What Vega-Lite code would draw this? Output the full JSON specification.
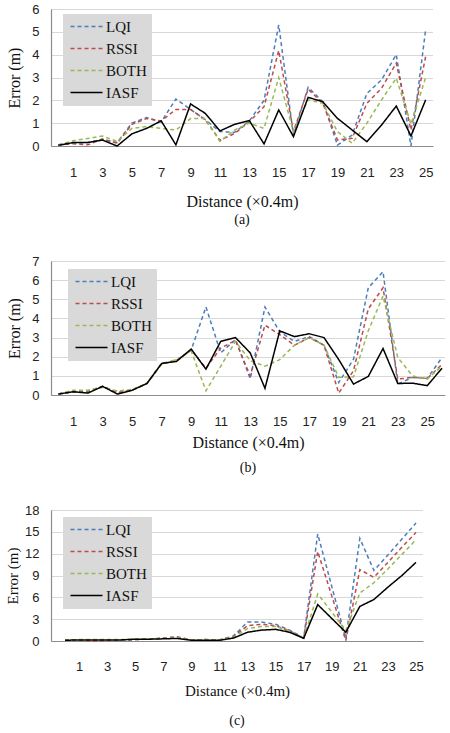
{
  "$schema": "https://vega.github.io/schema/vega-lite/v6.json",
  "background": "white",
  "padding": {"top": 3, "left": 5, "right": 4, "bottom": 2},
  "bounds": "flush",
  "spacing": 115,
  "datasets": {
    "a": [
      {"d":0,"s":"LQI","e":0.05},{"d":1,"s":"LQI","e":0.12},{"d":2,"s":"LQI","e":0.15},{"d":3,"s":"LQI","e":0.3},{"d":4,"s":"LQI","e":0.15},{"d":5,"s":"LQI","e":1.0},{"d":6,"s":"LQI","e":1.25},{"d":7,"s":"LQI","e":1.05},{"d":8,"s":"LQI","e":2.06},{"d":9,"s":"LQI","e":1.6},{"d":10,"s":"LQI","e":1.15},{"d":11,"s":"LQI","e":0.63},{"d":12,"s":"LQI","e":0.6},{"d":13,"s":"LQI","e":1.1},{"d":14,"s":"LQI","e":2.0},{"d":15,"s":"LQI","e":5.3},{"d":16,"s":"LQI","e":0.48},{"d":17,"s":"LQI","e":2.57},{"d":18,"s":"LQI","e":1.94},{"d":19,"s":"LQI","e":0.04},{"d":20,"s":"LQI","e":0.48},{"d":21,"s":"LQI","e":2.3},{"d":22,"s":"LQI","e":2.9},{"d":23,"s":"LQI","e":4.0},{"d":24,"s":"LQI","e":0.0},{"d":25,"s":"LQI","e":5.1},
      {"d":0,"s":"RSSI","e":0.05},{"d":1,"s":"RSSI","e":0.1},{"d":2,"s":"RSSI","e":0.05},{"d":3,"s":"RSSI","e":0.3},{"d":4,"s":"RSSI","e":0.12},{"d":5,"s":"RSSI","e":0.95},{"d":6,"s":"RSSI","e":1.2},{"d":7,"s":"RSSI","e":1.1},{"d":8,"s":"RSSI","e":1.6},{"d":9,"s":"RSSI","e":1.6},{"d":10,"s":"RSSI","e":1.15},{"d":11,"s":"RSSI","e":0.25},{"d":12,"s":"RSSI","e":0.55},{"d":13,"s":"RSSI","e":1.07},{"d":14,"s":"RSSI","e":1.72},{"d":15,"s":"RSSI","e":4.18},{"d":16,"s":"RSSI","e":0.63},{"d":17,"s":"RSSI","e":2.49},{"d":18,"s":"RSSI","e":1.87},{"d":19,"s":"RSSI","e":0.26},{"d":20,"s":"RSSI","e":0.34},{"d":21,"s":"RSSI","e":1.87},{"d":22,"s":"RSSI","e":2.53},{"d":23,"s":"RSSI","e":3.63},{"d":24,"s":"RSSI","e":0.7},{"d":25,"s":"RSSI","e":3.92},
      {"d":0,"s":"BOTH","e":0.05},{"d":1,"s":"BOTH","e":0.23},{"d":2,"s":"BOTH","e":0.33},{"d":3,"s":"BOTH","e":0.44},{"d":4,"s":"BOTH","e":0.2},{"d":5,"s":"BOTH","e":0.77},{"d":6,"s":"BOTH","e":0.85},{"d":7,"s":"BOTH","e":0.77},{"d":8,"s":"BOTH","e":0.7},{"d":9,"s":"BOTH","e":1.2},{"d":10,"s":"BOTH","e":1.2},{"d":11,"s":"BOTH","e":0.2},{"d":12,"s":"BOTH","e":0.7},{"d":13,"s":"BOTH","e":1.0},{"d":14,"s":"BOTH","e":0.77},{"d":15,"s":"BOTH","e":3.0},{"d":16,"s":"BOTH","e":0.63},{"d":17,"s":"BOTH","e":2.02},{"d":18,"s":"BOTH","e":1.87},{"d":19,"s":"BOTH","e":0.63},{"d":20,"s":"BOTH","e":0.12},{"d":21,"s":"BOTH","e":1.0},{"d":22,"s":"BOTH","e":2.02},{"d":23,"s":"BOTH","e":2.97},{"d":24,"s":"BOTH","e":0.96},{"d":25,"s":"BOTH","e":3.0},
      {"d":0,"s":"IASF","e":0.03},{"d":1,"s":"IASF","e":0.15},{"d":2,"s":"IASF","e":0.15},{"d":3,"s":"IASF","e":0.26},{"d":4,"s":"IASF","e":0.0},{"d":5,"s":"IASF","e":0.53},{"d":6,"s":"IASF","e":0.77},{"d":7,"s":"IASF","e":1.1},{"d":8,"s":"IASF","e":0.05},{"d":9,"s":"IASF","e":1.84},{"d":10,"s":"IASF","e":1.43},{"d":11,"s":"IASF","e":0.66},{"d":12,"s":"IASF","e":0.95},{"d":13,"s":"IASF","e":1.11},{"d":14,"s":"IASF","e":0.09},{"d":15,"s":"IASF","e":1.58},{"d":16,"s":"IASF","e":0.41},{"d":17,"s":"IASF","e":2.13},{"d":18,"s":"IASF","e":1.94},{"d":19,"s":"IASF","e":1.21},{"d":20,"s":"IASF","e":0.7},{"d":21,"s":"IASF","e":0.19},{"d":22,"s":"IASF","e":0.92},{"d":23,"s":"IASF","e":1.75},{"d":24,"s":"IASF","e":0.44},{"d":25,"s":"IASF","e":2.02}
    ],
    "b": [
      {"d":0,"s":"LQI","e":0.05},{"d":1,"s":"LQI","e":0.2},{"d":2,"s":"LQI","e":0.2},{"d":3,"s":"LQI","e":0.45},{"d":4,"s":"LQI","e":0.15},{"d":5,"s":"LQI","e":0.25},{"d":6,"s":"LQI","e":0.6},{"d":7,"s":"LQI","e":1.65},{"d":8,"s":"LQI","e":1.8},{"d":9,"s":"LQI","e":2.35},{"d":10,"s":"LQI","e":4.6},{"d":11,"s":"LQI","e":2.2},{"d":12,"s":"LQI","e":2.9},{"d":13,"s":"LQI","e":0.85},{"d":14,"s":"LQI","e":4.6},{"d":15,"s":"LQI","e":3.3},{"d":16,"s":"LQI","e":2.8},{"d":17,"s":"LQI","e":3.05},{"d":18,"s":"LQI","e":2.6},{"d":19,"s":"LQI","e":0.65},{"d":20,"s":"LQI","e":1.87},{"d":21,"s":"LQI","e":5.6},{"d":22,"s":"LQI","e":6.44},{"d":23,"s":"LQI","e":0.57},{"d":24,"s":"LQI","e":0.92},{"d":25,"s":"LQI","e":0.87},{"d":26,"s":"LQI","e":1.96},
      {"d":0,"s":"RSSI","e":0.05},{"d":1,"s":"RSSI","e":0.15},{"d":2,"s":"RSSI","e":0.15},{"d":3,"s":"RSSI","e":0.45},{"d":4,"s":"RSSI","e":0.1},{"d":5,"s":"RSSI","e":0.25},{"d":6,"s":"RSSI","e":0.6},{"d":7,"s":"RSSI","e":1.65},{"d":8,"s":"RSSI","e":1.8},{"d":9,"s":"RSSI","e":2.35},{"d":10,"s":"RSSI","e":1.4},{"d":11,"s":"RSSI","e":2.45},{"d":12,"s":"RSSI","e":2.85},{"d":13,"s":"RSSI","e":1.0},{"d":14,"s":"RSSI","e":3.65},{"d":15,"s":"RSSI","e":3.15},{"d":16,"s":"RSSI","e":2.6},{"d":17,"s":"RSSI","e":3.0},{"d":18,"s":"RSSI","e":2.6},{"d":19,"s":"RSSI","e":0.1},{"d":20,"s":"RSSI","e":1.27},{"d":21,"s":"RSSI","e":4.5},{"d":22,"s":"RSSI","e":5.6},{"d":23,"s":"RSSI","e":0.83},{"d":24,"s":"RSSI","e":0.92},{"d":25,"s":"RSSI","e":0.87},{"d":26,"s":"RSSI","e":1.6},
      {"d":0,"s":"BOTH","e":0.05},{"d":1,"s":"BOTH","e":0.25},{"d":2,"s":"BOTH","e":0.25},{"d":3,"s":"BOTH","e":0.4},{"d":4,"s":"BOTH","e":0.2},{"d":5,"s":"BOTH","e":0.3},{"d":6,"s":"BOTH","e":0.6},{"d":7,"s":"BOTH","e":1.6},{"d":8,"s":"BOTH","e":1.85},{"d":9,"s":"BOTH","e":2.3},{"d":10,"s":"BOTH","e":0.22},{"d":11,"s":"BOTH","e":1.5},{"d":12,"s":"BOTH","e":2.8},{"d":13,"s":"BOTH","e":1.8},{"d":14,"s":"BOTH","e":1.5},{"d":15,"s":"BOTH","e":1.85},{"d":16,"s":"BOTH","e":2.6},{"d":17,"s":"BOTH","e":3.0},{"d":18,"s":"BOTH","e":2.6},{"d":19,"s":"BOTH","e":0.92},{"d":20,"s":"BOTH","e":0.95},{"d":21,"s":"BOTH","e":3.35},{"d":22,"s":"BOTH","e":5.17},{"d":23,"s":"BOTH","e":1.96},{"d":24,"s":"BOTH","e":1.0},{"d":25,"s":"BOTH","e":0.83},{"d":26,"s":"BOTH","e":1.53},
      {"d":0,"s":"IASF","e":0.05},{"d":1,"s":"IASF","e":0.17},{"d":2,"s":"IASF","e":0.1},{"d":3,"s":"IASF","e":0.45},{"d":4,"s":"IASF","e":0.05},{"d":5,"s":"IASF","e":0.25},{"d":6,"s":"IASF","e":0.6},{"d":7,"s":"IASF","e":1.65},{"d":8,"s":"IASF","e":1.75},{"d":9,"s":"IASF","e":2.4},{"d":10,"s":"IASF","e":1.35},{"d":11,"s":"IASF","e":2.8},{"d":12,"s":"IASF","e":3.0},{"d":13,"s":"IASF","e":2.2},{"d":14,"s":"IASF","e":0.35},{"d":15,"s":"IASF","e":3.35},{"d":16,"s":"IASF","e":3.05},{"d":17,"s":"IASF","e":3.2},{"d":18,"s":"IASF","e":3.0},{"d":19,"s":"IASF","e":1.85},{"d":20,"s":"IASF","e":0.57},{"d":21,"s":"IASF","e":0.97},{"d":22,"s":"IASF","e":2.43},{"d":23,"s":"IASF","e":0.6},{"d":24,"s":"IASF","e":0.62},{"d":25,"s":"IASF","e":0.49},{"d":26,"s":"IASF","e":1.4}
    ],
    "c": [
      {"d":0,"s":"LQI","e":0.1},{"d":1,"s":"LQI","e":0.15},{"d":2,"s":"LQI","e":0.1},{"d":3,"s":"LQI","e":0.1},{"d":4,"s":"LQI","e":0.15},{"d":5,"s":"LQI","e":0.2},{"d":6,"s":"LQI","e":0.25},{"d":7,"s":"LQI","e":0.4},{"d":8,"s":"LQI","e":0.55},{"d":9,"s":"LQI","e":0.15},{"d":10,"s":"LQI","e":0.2},{"d":11,"s":"LQI","e":0.15},{"d":12,"s":"LQI","e":0.7},{"d":13,"s":"LQI","e":2.6},{"d":14,"s":"LQI","e":2.6},{"d":15,"s":"LQI","e":2.3},{"d":16,"s":"LQI","e":1.5},{"d":17,"s":"LQI","e":0.4},{"d":18,"s":"LQI","e":14.7},{"d":19,"s":"LQI","e":7.5},{"d":20,"s":"LQI","e":0.35},{"d":21,"s":"LQI","e":14.1},{"d":22,"s":"LQI","e":9.7},{"d":23,"s":"LQI","e":11.8},{"d":24,"s":"LQI","e":14.0},{"d":25,"s":"LQI","e":16.2},
      {"d":0,"s":"RSSI","e":0.1},{"d":1,"s":"RSSI","e":0.15},{"d":2,"s":"RSSI","e":0.0},{"d":3,"s":"RSSI","e":0.1},{"d":4,"s":"RSSI","e":0.15},{"d":5,"s":"RSSI","e":0.2},{"d":6,"s":"RSSI","e":0.25},{"d":7,"s":"RSSI","e":0.4},{"d":8,"s":"RSSI","e":0.55},{"d":9,"s":"RSSI","e":0.15},{"d":10,"s":"RSSI","e":0.2},{"d":11,"s":"RSSI","e":0.15},{"d":12,"s":"RSSI","e":0.6},{"d":13,"s":"RSSI","e":2.1},{"d":14,"s":"RSSI","e":2.3},{"d":15,"s":"RSSI","e":2.1},{"d":16,"s":"RSSI","e":1.4},{"d":17,"s":"RSSI","e":0.4},{"d":18,"s":"RSSI","e":12.3},{"d":19,"s":"RSSI","e":6.2},{"d":20,"s":"RSSI","e":0.05},{"d":21,"s":"RSSI","e":9.8},{"d":22,"s":"RSSI","e":8.75},{"d":23,"s":"RSSI","e":10.8},{"d":24,"s":"RSSI","e":12.9},{"d":25,"s":"RSSI","e":14.9},
      {"d":0,"s":"BOTH","e":0.1},{"d":1,"s":"BOTH","e":0.2},{"d":2,"s":"BOTH","e":0.2},{"d":3,"s":"BOTH","e":0.2},{"d":4,"s":"BOTH","e":0.2},{"d":5,"s":"BOTH","e":0.25},{"d":6,"s":"BOTH","e":0.25},{"d":7,"s":"BOTH","e":0.35},{"d":8,"s":"BOTH","e":0.45},{"d":9,"s":"BOTH","e":0.15},{"d":10,"s":"BOTH","e":0.15},{"d":11,"s":"BOTH","e":0.15},{"d":12,"s":"BOTH","e":0.5},{"d":13,"s":"BOTH","e":1.7},{"d":14,"s":"BOTH","e":2.0},{"d":15,"s":"BOTH","e":2.0},{"d":16,"s":"BOTH","e":1.3},{"d":17,"s":"BOTH","e":0.4},{"d":18,"s":"BOTH","e":6.45},{"d":19,"s":"BOTH","e":4.0},{"d":20,"s":"BOTH","e":1.4},{"d":21,"s":"BOTH","e":6.6},{"d":22,"s":"BOTH","e":8.0},{"d":23,"s":"BOTH","e":9.9},{"d":24,"s":"BOTH","e":11.9},{"d":25,"s":"BOTH","e":13.9},
      {"d":0,"s":"IASF","e":0.1},{"d":1,"s":"IASF","e":0.15},{"d":2,"s":"IASF","e":0.15},{"d":3,"s":"IASF","e":0.15},{"d":4,"s":"IASF","e":0.15},{"d":5,"s":"IASF","e":0.25},{"d":6,"s":"IASF","e":0.25},{"d":7,"s":"IASF","e":0.3},{"d":8,"s":"IASF","e":0.35},{"d":9,"s":"IASF","e":0.1},{"d":10,"s":"IASF","e":0.1},{"d":11,"s":"IASF","e":0.1},{"d":12,"s":"IASF","e":0.4},{"d":13,"s":"IASF","e":1.2},{"d":14,"s":"IASF","e":1.5},{"d":15,"s":"IASF","e":1.6},{"d":16,"s":"IASF","e":1.2},{"d":17,"s":"IASF","e":0.37},{"d":18,"s":"IASF","e":5.0},{"d":19,"s":"IASF","e":3.1},{"d":20,"s":"IASF","e":1.2},{"d":21,"s":"IASF","e":4.75},{"d":22,"s":"IASF","e":5.7},{"d":23,"s":"IASF","e":7.4},{"d":24,"s":"IASF","e":9.0},{"d":25,"s":"IASF","e":10.8}
    ]
  },
  "resolve": {
    "scale": {"x": "independent", "y": "independent", "color": "independent", "strokeDash": "independent", "strokeWidth": "independent"},
    "legend": {"color": "independent", "strokeDash": "independent", "strokeWidth": "independent"}
  },
  "vconcat": [
    {
      "width": 382,
      "height": 137,
      "title": {"text": "(a)", "offset": 4},
      "data": {"name": "a"},
      "mark": {"type": "line"},
      "encoding": {
        "x": {"field": "d", "type": "quantitative", "scale": {"domain": [-0.5, 25.5], "nice": false, "zero": false},
          "axis": {"values": [1, 3, 5, 7, 9, 11, 13, 15, 17, 19, 21, 23, 25], "title": "Distance (×0.4m)", "titlePadding": 14, "titleFontSize": 16}},
        "y": {"field": "e", "type": "quantitative", "scale": {"domain": [0, 6], "nice": false},
          "axis": {"values": [0, 1, 2, 3, 4, 5, 6], "title": "Error (m)", "titlePadding": 9, "titleFontSize": 16}},
        "color": {"field": "s", "type": "nominal",
          "scale": {"domain": ["LQI", "RSSI", "BOTH", "IASF"], "range": ["#4a7ebb", "#be4b48", "#98b954", "#000000"]},
          "legend": {"title": null, "legendX": 12, "legendY": 5}},
        "strokeDash": {"field": "s", "type": "nominal",
          "scale": {"domain": ["LQI", "RSSI", "BOTH", "IASF"], "range": [[4, 3], [4, 3], [4, 3], [1, 0]]},
          "legend": {"title": null, "legendX": 12, "legendY": 5}},
        "strokeWidth": {"field": "s", "type": "nominal",
          "scale": {"domain": ["LQI", "RSSI", "BOTH", "IASF"], "range": [1.5, 1.5, 1.5, 2.2]},
          "legend": {"title": null, "legendX": 12, "legendY": 5}}
      }
    },
    {
      "width": 394,
      "height": 134,
      "title": {"text": "(b)", "offset": 11},
      "data": {"name": "b"},
      "mark": {"type": "line"},
      "encoding": {
        "x": {"field": "d", "type": "quantitative", "scale": {"domain": [-0.5, 26.2], "nice": false, "zero": false},
          "axis": {"values": [1, 3, 5, 7, 9, 11, 13, 15, 17, 19, 21, 23, 25], "title": "Distance (×0.4m)", "titlePadding": 6, "titleFontSize": 16}},
        "y": {"field": "e", "type": "quantitative", "scale": {"domain": [0, 7], "nice": false},
          "axis": {"values": [0, 1, 2, 3, 4, 5, 6, 7], "title": "Error (m)", "titlePadding": 9, "titleFontSize": 16}},
        "color": {"field": "s", "type": "nominal",
          "scale": {"domain": ["LQI", "RSSI", "BOTH", "IASF"], "range": ["#4a7ebb", "#be4b48", "#98b954", "#000000"]},
          "legend": {"title": null, "legendX": 17, "legendY": 8}},
        "strokeDash": {"field": "s", "type": "nominal",
          "scale": {"domain": ["LQI", "RSSI", "BOTH", "IASF"], "range": [[4, 3], [4, 3], [4, 3], [1, 0]]},
          "legend": {"title": null, "legendX": 17, "legendY": 8}},
        "strokeWidth": {"field": "s", "type": "nominal",
          "scale": {"domain": ["LQI", "RSSI", "BOTH", "IASF"], "range": [1.5, 1.5, 1.5, 2.2]},
          "legend": {"title": null, "legendX": 17, "legendY": 8}}
      }
    },
    {
      "width": 372,
      "height": 131,
      "title": {"text": "(c)", "offset": 16},
      "data": {"name": "c"},
      "mark": {"type": "line"},
      "encoding": {
        "x": {"field": "d", "type": "quantitative", "scale": {"domain": [-1, 25.5], "nice": false, "zero": false},
          "axis": {"values": [1, 3, 5, 7, 9, 11, 13, 15, 17, 19, 21, 23, 25], "title": "Distance (×0.4m)", "titlePadding": 10, "labelPadding": 19}},
        "y": {"field": "e", "type": "quantitative", "scale": {"domain": [0, 18], "nice": false},
          "axis": {"values": [0, 3, 6, 9, 12, 15, 18], "title": "Error (m)", "titlePadding": 4}},
        "color": {"field": "s", "type": "nominal",
          "scale": {"domain": ["LQI", "RSSI", "BOTH", "IASF"], "range": ["#4a7ebb", "#be4b48", "#98b954", "#000000"]},
          "legend": {"title": null, "legendX": 12, "legendY": 7}},
        "strokeDash": {"field": "s", "type": "nominal",
          "scale": {"domain": ["LQI", "RSSI", "BOTH", "IASF"], "range": [[4, 3], [4, 3], [4, 3], [1, 0]]},
          "legend": {"title": null, "legendX": 12, "legendY": 7}},
        "strokeWidth": {"field": "s", "type": "nominal",
          "scale": {"domain": ["LQI", "RSSI", "BOTH", "IASF"], "range": [1.5, 1.5, 1.5, 2.2]},
          "legend": {"title": null, "legendX": 12, "legendY": 7}}
      }
    }
  ],
  "config": {
    "view": {"stroke": null},
    "axis": {
      "labelFont": "Liberation Sans",
      "labelFontSize": 13,
      "labelColor": "#222222",
      "titleFont": "Liberation Serif",
      "titleFontSize": 15,
      "titleFontWeight": "normal",
      "titleColor": "#111111",
      "domainColor": "#8c8c8c",
      "domainWidth": 1.2,
      "ticks": false,
      "gridColor": "#b0b0b0",
      "gridDash": [1, 1]
    },
    "axisX": {"grid": false, "labelPadding": 20},
    "axisY": {"labelPadding": 12},
    "legend": {
      "orient": "none",
      "fillColor": "#d9d9d9",
      "padding": 5,
      "rowPadding": 6,
      "symbolType": "M-1,0H5.4",
      "symbolSize": 100,
      "symbolStrokeWidth": 2,
      "labelOffset": 23,
      "labelFont": "Liberation Serif",
      "labelFontSize": 15,
      "labelColor": "#111111"
    },
    "title": {
      "orient": "bottom",
      "font": "Liberation Serif",
      "fontSize": 14,
      "fontWeight": "normal",
      "color": "#111111"
    }
  }
}
